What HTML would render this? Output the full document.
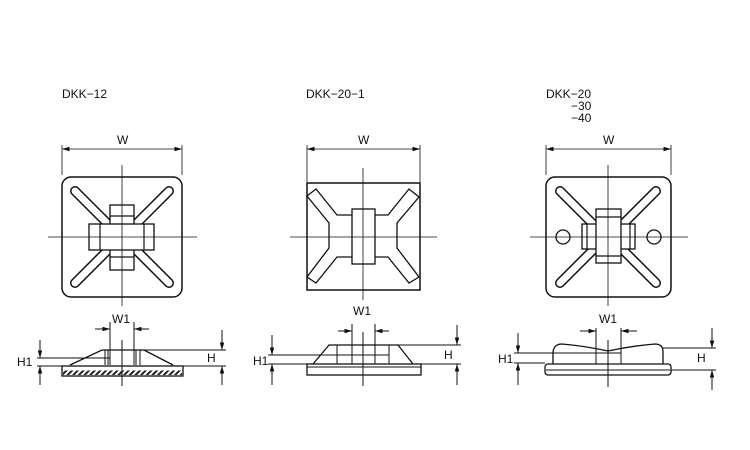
<!DOCTYPE html>
<html><head><meta charset="utf-8"><style>
html,body{margin:0;padding:0;background:#fff;}
svg{display:block;}
text{font-family:"Liberation Sans",sans-serif;font-size:12px;fill:#111;}
</style></head><body>
<svg width="750" height="450" viewBox="0 0 750 450" xmlns="http://www.w3.org/2000/svg">
<defs>
<marker id="a" viewBox="0 0 10 6" refX="10" refY="3" markerWidth="8" markerHeight="4.5" orient="auto-start-reverse" markerUnits="userSpaceOnUse"><path d="M0,0 L10,3 L0,6z" fill="#111"/></marker>
<pattern id="h" width="4" height="4" patternUnits="userSpaceOnUse" patternTransform="rotate(45)"><rect width="4" height="4" fill="#fff"/><rect width="2" height="4" fill="#222"/></pattern>
</defs>
<text x="62" y="98">DKK−12</text>
<text x="306" y="98">DKK−20−1</text>
<text x="546" y="98">DKK−20</text>
<text x="571" y="110">−30</text>
<text x="571" y="122">−40</text>
<text x="117" y="144">W</text>
<text x="358" y="144">W</text>
<text x="603" y="144">W</text>

<!-- ================= DIAGRAM 1 ================= -->
<g fill="none" stroke="#111" stroke-width="0.8">
<line x1="62" y1="145" x2="62" y2="175"/><line x1="182" y1="145" x2="182" y2="175"/>
<line x1="62" y1="149" x2="182" y2="149" marker-start="url(#a)" marker-end="url(#a)"/>
</g>
<rect x="62" y="177" width="120" height="120" rx="9" fill="none" stroke="#111" stroke-width="1.5"/>
<g stroke-linecap="round">
<g stroke="#111" stroke-width="10">
<line x1="75" y1="191" x2="116" y2="232"/><line x1="169" y1="191" x2="128" y2="232"/>
<line x1="75" y1="283" x2="116" y2="242"/><line x1="169" y1="283" x2="128" y2="242"/>
</g>
<g stroke="#fff" stroke-width="7">
<line x1="75" y1="191" x2="116" y2="232"/><line x1="169" y1="191" x2="128" y2="232"/>
<line x1="75" y1="283" x2="116" y2="242"/><line x1="169" y1="283" x2="128" y2="242"/>
</g>
</g>
<g fill="#fff" stroke="#111" stroke-width="1.3">
<rect x="110" y="205" width="24" height="65"/>
<rect x="89" y="224" width="65" height="26"/>
</g>
<g stroke="#111" stroke-width="1.2" fill="none">
<line x1="110" y1="216" x2="134" y2="216"/><line x1="110" y1="257" x2="134" y2="257"/>
<line x1="100" y1="224" x2="100" y2="250"/><line x1="144" y1="224" x2="144" y2="250"/>
</g>
<g stroke="#111" stroke-width="0.8">
<line x1="122" y1="165" x2="122" y2="306"/><line x1="48" y1="237" x2="197" y2="237"/>
</g>
<!-- side 1 -->
<rect x="62" y="366" width="121" height="10" fill="#fff" stroke="#111" stroke-width="1.3"/>
<rect x="63" y="370.5" width="119" height="4.5" fill="url(#h)"/>
<path d="M70,365 L102,350 L144,350 L173,365" fill="none" stroke="#111" stroke-width="1.3"/>
<g stroke="#111" stroke-width="1" fill="none">
<line x1="105" y1="350" x2="105" y2="365"/><line x1="108" y1="350" x2="108" y2="365"/>
<line x1="136" y1="350" x2="136" y2="365"/><line x1="140" y1="350" x2="140" y2="365"/>
<line x1="110" y1="322" x2="110" y2="365"/><line x1="134" y1="322" x2="134" y2="365"/>
<line x1="95" y1="329" x2="110" y2="329" marker-end="url(#a)"/><line x1="149" y1="329" x2="134" y2="329" marker-end="url(#a)"/>
<line x1="122" y1="340" x2="122" y2="386"/>
<line x1="37" y1="358" x2="110" y2="358"/><line x1="37" y1="366" x2="62" y2="366"/>
<line x1="40" y1="340" x2="40" y2="358" marker-end="url(#a)"/><line x1="40" y1="385" x2="40" y2="366" marker-end="url(#a)"/>
<line x1="144" y1="350" x2="226" y2="350"/><line x1="183" y1="366" x2="226" y2="366"/>
<line x1="222" y1="330" x2="222" y2="350" marker-end="url(#a)"/><line x1="222" y1="385" x2="222" y2="366" marker-end="url(#a)"/>
</g>
<text x="112" y="323">W1</text>
<text x="17" y="366">H1</text>
<text x="207" y="362">H</text>

<!-- ================= DIAGRAM 2 ================= -->
<g fill="none" stroke="#111" stroke-width="0.8">
<line x1="307" y1="145" x2="307" y2="182"/><line x1="420" y1="145" x2="420" y2="182"/>
<line x1="307" y1="149" x2="420" y2="149" marker-start="url(#a)" marker-end="url(#a)"/>
</g>
<rect x="307" y="183" width="113" height="107" fill="none" stroke="#111" stroke-width="1.5"/>
<path d="M307,196 L316,189 L337,215 L388,215 L409,189 L419,197 L397,223 L397,248 L419,277 L409,283 L388,257 L337,257 L316,283 L307,277 L329,248 L329,223 Z" fill="none" stroke="#111" stroke-width="1.3"/>
<rect x="352" y="209" width="23" height="55" fill="#fff" stroke="#111" stroke-width="1.3"/>
<g stroke="#111" stroke-width="0.8">
<line x1="363" y1="168" x2="363" y2="300"/><line x1="290" y1="237" x2="437" y2="237"/>
</g>
<!-- side 2 -->
<rect x="307" y="364" width="114" height="11" fill="#fff" stroke="#111" stroke-width="1.3"/>
<line x1="307" y1="367" x2="421" y2="367" stroke="#111" stroke-width="1"/>
<path d="M313,364 L329,345 L398,345 L413,364" fill="none" stroke="#111" stroke-width="1.3"/>
<g stroke="#111" stroke-width="1" fill="none">
<line x1="337" y1="345" x2="337" y2="364"/><line x1="352" y1="324" x2="352" y2="364"/>
<line x1="375" y1="324" x2="375" y2="364"/><line x1="389" y1="345" x2="389" y2="364"/>
<line x1="338" y1="331" x2="352" y2="331" marker-end="url(#a)"/><line x1="389" y1="331" x2="375" y2="331" marker-end="url(#a)"/>
<line x1="363" y1="332" x2="363" y2="386"/>
<line x1="268" y1="355" x2="389" y2="355"/><line x1="268" y1="364" x2="313" y2="364"/>
<line x1="272" y1="335" x2="272" y2="355" marker-end="url(#a)"/><line x1="272" y1="385" x2="272" y2="364" marker-end="url(#a)"/>
<line x1="398" y1="345" x2="461" y2="345"/><line x1="421" y1="364" x2="461" y2="364"/>
<line x1="457" y1="325" x2="457" y2="345" marker-end="url(#a)"/><line x1="457" y1="385" x2="457" y2="364" marker-end="url(#a)"/>
</g>
<text x="353" y="315">W1</text>
<text x="253" y="365">H1</text>
<text x="444" y="359">H</text>

<!-- ================= DIAGRAM 3 ================= -->
<g fill="none" stroke="#111" stroke-width="0.8">
<line x1="546" y1="145" x2="546" y2="175"/><line x1="671" y1="145" x2="671" y2="175"/>
<line x1="546" y1="149" x2="671" y2="149" marker-start="url(#a)" marker-end="url(#a)"/>
</g>
<rect x="546" y="177" width="125" height="120" rx="9" fill="none" stroke="#111" stroke-width="1.5"/>
<g stroke-linecap="round">
<g stroke="#111" stroke-width="10">
<line x1="560" y1="191" x2="602" y2="233"/><line x1="656" y1="191" x2="614" y2="233"/>
<line x1="560" y1="283" x2="602" y2="241"/><line x1="656" y1="283" x2="614" y2="241"/>
</g>
<g stroke="#fff" stroke-width="7">
<line x1="560" y1="191" x2="602" y2="233"/><line x1="656" y1="191" x2="614" y2="233"/>
<line x1="560" y1="283" x2="602" y2="241"/><line x1="656" y1="283" x2="614" y2="241"/>
</g>
</g>
<g fill="#fff" stroke="#111" stroke-width="1.3">
<rect x="582" y="224" width="53" height="25"/>
<rect x="596" y="209" width="25" height="54"/>
</g>
<g stroke="#111" stroke-width="1.2" fill="none">
<line x1="596" y1="217" x2="621" y2="217"/><line x1="596" y1="256" x2="621" y2="256"/>
<line x1="587" y1="224" x2="587" y2="249"/><line x1="630" y1="224" x2="630" y2="249"/>
<circle cx="563" cy="237" r="7" stroke-width="1.3"/><circle cx="654" cy="237" r="7" stroke-width="1.3"/>
</g>
<g stroke="#111" stroke-width="0.8">
<line x1="608" y1="165" x2="608" y2="306"/><line x1="530" y1="237" x2="688" y2="237"/>
</g>
<!-- side 3 -->
<rect x="545" y="364" width="126" height="11" rx="3" fill="#fff" stroke="#111" stroke-width="1.3"/>
<line x1="546" y1="370" x2="670" y2="370" stroke="#111" stroke-width="1"/>
<path d="M553,364 L553,352 Q554,344 562,344 Q585,346 608,351 Q631,346 655,344 Q663,344 663,352 L663,364" fill="none" stroke="#111" stroke-width="1.3"/>
<g stroke="#111" stroke-width="1" fill="none">
<line x1="596" y1="328" x2="596" y2="364"/><line x1="621" y1="328" x2="621" y2="364"/>
<line x1="580" y1="331" x2="596" y2="331" marker-end="url(#a)"/><line x1="637" y1="331" x2="621" y2="331" marker-end="url(#a)"/>
<line x1="608" y1="340" x2="608" y2="387"/>
<line x1="514" y1="353" x2="621" y2="353"/><line x1="514" y1="363" x2="545" y2="363"/>
<line x1="518" y1="333" x2="518" y2="353" marker-end="url(#a)"/><line x1="518" y1="385" x2="518" y2="363" marker-end="url(#a)"/>
<line x1="663" y1="348" x2="716" y2="348"/><line x1="671" y1="370" x2="716" y2="370"/>
<line x1="712" y1="328" x2="712" y2="348" marker-end="url(#a)"/><line x1="712" y1="390" x2="712" y2="370" marker-end="url(#a)"/>
</g>
<text x="599" y="323">W1</text>
<text x="498" y="363">H1</text>
<text x="697" y="362">H</text>
</svg>
</body></html>
